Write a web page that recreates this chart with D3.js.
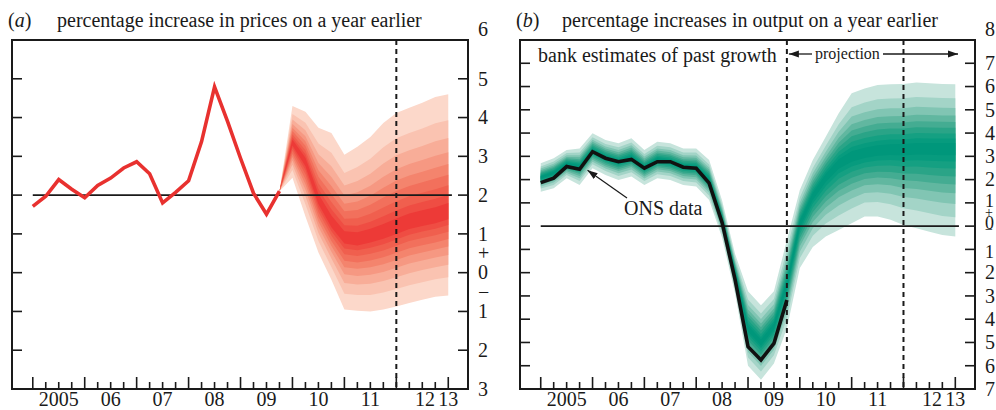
<!DOCTYPE html>
<html>
<head>
<meta charset="utf-8">
<script src="https://cdn.jsdelivr.net/npm/d3@7/dist/d3.min.js"></script>
<style>
  body { margin: 0; background: #fff; }
  svg text { font-family: "Liberation Serif", "Times New Roman", serif; fill: #1a1a1a; }
</style>
</head>
<body>
<svg id="chart" width="996" height="410"></svg>
<script>
// all series are quarterly, first value = 2005 Q1
const cpiActual = [1.71, 1.97, 2.40, 2.15, 1.93, 2.25, 2.44, 2.70, 2.86, 2.55,
                   1.80, 2.07, 2.37, 3.38, 4.79, 3.90, 2.95, 2.05, 1.51, 2.10];

// CPI projection fan, 2009 Q4 to 2013 Q1
const cpiFanStartQ = 19;
const cpiCentral = [2.10, 3.35, 2.86, 1.88, 1.29, 0.90, 0.85, 0.93, 1.03, 1.16, 1.29, 1.37, 1.44, 1.55];
const cpiLower   = [2.10, 2.45, 1.45, 0.52, -0.18, -0.95, -0.98, -1.00, -0.95, -0.87, -0.78, -0.70, -0.62, -0.59];
const cpiUpper   = [2.10, 4.30, 4.15, 3.74, 3.60, 3.04, 3.25, 3.50, 3.86, 4.12, 4.25, 4.38, 4.53, 4.60];

const gdpOns = [1.87, 2.06, 2.56, 2.44, 3.20, 2.92, 2.77, 2.87, 2.49, 2.77,
                2.77, 2.53, 2.49, 1.85, 0.15, -2.30, -5.18, -5.75, -5.04, -3.17];

// GDP fan (backcast + projection), 2005 Q1 to 2013 Q1
const gdpCentral = [2.09, 2.28, 2.67, 2.56, 3.24, 2.95, 2.77, 2.96, 2.52, 2.85, 2.77, 2.56, 2.52,
                    1.98, 0.30, -2.00, -4.40, -5.00, -4.30, -2.50,
                    0.10, 1.30, 2.10, 2.70, 3.00, 3.15, 3.25, 3.30, 3.30, 3.35, 3.35, 3.35, 3.35];
const gdpLower   = [1.48, 1.63, 2.06, 1.77, 2.49, 2.20, 1.98, 2.13, 1.77, 2.06, 1.98, 1.77, 1.70,
                    1.12, -0.50, -2.90, -6.00, -6.60, -5.90, -4.40,
                    -1.80, -0.90, -0.45, -0.17, 0.12, 0.41, 0.41, 0.27, 0.05, -0.09, -0.24, -0.38, -0.45];
const gdpUpper   = [2.70, 2.92, 3.27, 3.34, 3.99, 3.70, 3.56, 3.78, 3.27, 3.63, 3.56, 3.34, 3.34,
                    2.84, 1.10, -1.20, -2.80, -3.40, -2.80, -0.60,
                    1.55, 2.84, 3.84, 4.85, 5.71, 5.92, 6.07, 6.10, 6.11, 6.17, 6.14, 6.11, 6.10];

const yearLabels = ['2005', '06', '07', '08', '09', '10', '11', '12', '13'];
const yearLabelPos = [2005.5, 2006.5, 2007.5, 2008.5, 2009.5, 2010.5, 2011.5, 2012.55, 2013.0];

const cpiTicks = [6, 5, 4, 3, 2, 1, 0, -1, -2, -3];
const gdpTicks = [8, 7, 6, 5, 4, 3, 2, 1, 0, -1, -2, -3, -4, -5, -6, -7];

// outermost to innermost band, share of the distance from centre to 90% edge
const bandFractions = [1.0, 0.78, 0.63, 0.51, 0.41, 0.32, 0.23, 0.15, 0.08];
const redShades = ['#fcd8ca', '#fac3b1', '#f8ad98', '#f69882', '#f4846d', '#f2705c', '#f05f4e', '#ef4d43', '#ed3a37'];
const greenShades = ['#c7e4dc', '#a3d4c7', '#81c5b3', '#61b7a0', '#44ac92', '#2aa487', '#15a082', '#079b7e', '#00977b'];

const FONT = 20;
const svg = d3.select('#chart');
const quarterTime = (i) => 2005 + i / 4;

function drawPanel(o) {
  const g = svg.append('g');
  const x = d3.scaleLinear().domain([2004.6, 2013.38]).range([o.left, o.right]);
  const y = d3.scaleLinear().domain(o.yDomain).range([389, 40]);

  // fan bands
  const fanData = o.central.map((c, i) => ({
    t: quarterTime(o.fanStart + i), c: c, lo: o.lower[i], hi: o.upper[i]
  }));
  bandFractions.forEach((f, k) => {
    const area = d3.area()
      .x((d) => x(d.t))
      .y0((d) => y(d.c - f * (d.c - d.lo)))
      .y1((d) => y(d.c + f * (d.hi - d.c)));
    g.append('path').datum(fanData)
      .attr('d', area)
      .attr('fill', o.shades[k]);
  });

  // reference line
  g.append('line')
    .attr('x1', x(2005)).attr('x2', x(2013.07))
    .attr('y1', y(o.refValue)).attr('y2', y(o.refValue))
    .attr('stroke', '#1a1a1a').attr('stroke-width', 1.6);

  o.dashed.forEach((t) => {
    g.append('line')
      .attr('x1', x(t)).attr('x2', x(t))
      .attr('y1', 40).attr('y2', 389)
      .attr('stroke', '#1a1a1a').attr('stroke-width', 2)
      .attr('stroke-dasharray', '5,4');
  });

  // actual data line
  const line = d3.line().x((d, i) => x(quarterTime(i))).y((d) => y(d));
  g.append('path').datum(o.actual)
    .attr('d', line)
    .attr('fill', 'none')
    .attr('stroke', o.lineColor)
    .attr('stroke-width', 3.6)
    .attr('stroke-linejoin', 'miter');

  // frame
  g.append('rect')
    .attr('x', o.left).attr('y', 40)
    .attr('width', o.right - o.left).attr('height', 349)
    .attr('fill', 'none').attr('stroke', '#1a1a1a').attr('stroke-width', 2);

  // x ticks, quarterly, inside the frame
  const quarters = d3.range(0, 33).map(quarterTime);
  g.selectAll('.xtick').data(quarters).enter().append('line')
    .attr('class', 'xtick')
    .attr('x1', (d) => x(d)).attr('x2', (d) => x(d))
    .attr('y1', 389).attr('y2', (d) => Number.isInteger(d) ? 377 : 382)
    .attr('stroke', '#1a1a1a').attr('stroke-width', 1.6);

  g.selectAll('.xlab').data(yearLabels).enter().append('text')
    .attr('x', (d, i) => x(yearLabelPos[i]))
    .attr('y', 406)
    .attr('text-anchor', 'middle')
    .attr('font-size', FONT)
    .text((d) => d);

  // y ticks on both sides
  const inner = o.yTicks.slice(1, -1);
  [[o.left, o.left + 10], [o.right - 10, o.right]].forEach(([a, b]) => {
    g.selectAll(null).data(inner).enter().append('line')
      .attr('x1', a).attr('x2', b)
      .attr('y1', (d) => y(d)).attr('y2', (d) => y(d))
      .attr('stroke', '#1a1a1a').attr('stroke-width', 1.6);
  });

  // labels near zero get squeezed apart a little on the tighter axis
  const labY = (d, i) => {
    if (i === 0) return y(d) - 11;
    if (d === 0) return y(0) + o.zeroShift;
    return y(d) + (Math.abs(d) === 1 ? -o.nearZero * Math.sign(d) : 0);
  };
  g.selectAll('.ylab').data(o.yTicks).enter().append('text')
    .attr('x', o.right + 10)
    .attr('y', labY)
    .attr('dy', '0.34em')
    .attr('font-size', (d) => d === 0 || Math.abs(d) === 1 ? o.zeroSize : FONT)
    .text((d) => Math.abs(d));
  g.append('text').attr('x', o.right + 10).attr('y', o.plusY).attr('dy', '0.34em')
    .attr('font-size', o.signSize).text('+');
  g.append('text').attr('x', o.right + 10).attr('y', o.minusY).attr('dy', '0.34em')
    .attr('font-size', o.signSize).text('\u2212');

  // title
  const title = g.append('text').attr('x', o.left - 4).attr('y', 27).attr('font-size', FONT);
  title.append('tspan').text('(');
  title.append('tspan').attr('font-style', 'italic').text(o.letter);
  title.append('tspan').text(')');
  g.append('text').attr('x', o.titleX).attr('y', 27).attr('font-size', FONT).text(o.title);

  return { g: g, x: x, y: y };
}

drawPanel({
  left: 12, right: 468, yDomain: [-3, 6], yTicks: cpiTicks,
  actual: cpiActual, central: cpiCentral, lower: cpiLower, upper: cpiUpper,
  fanStart: cpiFanStartQ, shades: redShades, lineColor: '#e8312f',
  refValue: 2, dashed: [2012.0], zeroShift: 0, nearZero: 0, zeroSize: FONT,
  plusY: 253, minusY: 292, signSize: FONT,
  letter: 'a', titleX: 57, title: 'percentage increase in prices on a year earlier'
});

const pb = drawPanel({
  left: 520, right: 975, yDomain: [-7, 8], yTicks: gdpTicks,
  actual: gdpOns, central: gdpCentral, lower: gdpLower, upper: gdpUpper,
  fanStart: 0, shades: greenShades, lineColor: '#111',
  refValue: 0, dashed: [2009.75, 2012.0], zeroShift: -3, nearZero: 2, zeroSize: 18,
  plusY: 212, minusY: 229, signSize: 14,
  letter: 'b', titleX: 562, title: 'percentage increases in output on a year earlier'
});

// annotations on panel b
pb.g.append('text').attr('x', 538).attr('y', 62).attr('font-size', FONT)
  .text('bank estimates of past growth');

const defs = svg.append('defs');
defs.append('marker').attr('id', 'head')
  .attr('viewBox', '0 0 10 10').attr('refX', 10).attr('refY', 5)
  .attr('markerWidth', 10).attr('markerHeight', 10)
  .attr('markerUnits', 'userSpaceOnUse')
  .attr('orient', 'auto-start-reverse')
  .append('path').attr('d', 'M0,1.5 L10,5 L0,8.5 Z').attr('fill', '#1a1a1a');

const projY = 54;
pb.g.append('line').attr('x1', 812).attr('x2', pb.x(2009.75) + 2)
  .attr('y1', projY).attr('y2', projY)
  .attr('stroke', '#1a1a1a').attr('stroke-width', 1.3).attr('marker-end', 'url(#head)');
pb.g.append('text').attr('x', 815).attr('y', projY + 4.5).attr('font-size', 16).text('projection');
pb.g.append('line').attr('x1', 883).attr('x2', 958)
  .attr('y1', projY).attr('y2', projY)
  .attr('stroke', '#1a1a1a').attr('stroke-width', 1.3).attr('marker-end', 'url(#head)');

pb.g.append('text').attr('x', 624).attr('y', 215).attr('font-size', FONT).text('ONS data');
pb.g.append('line').attr('x1', 627).attr('y1', 198)
  .attr('x2', pb.x(quarterTime(4)) - 5).attr('y2', pb.y(gdpOns[3]) + 1)
  .attr('stroke', '#1a1a1a').attr('stroke-width', 1.2).attr('marker-end', 'url(#head)');
</script>
</body>
</html>
